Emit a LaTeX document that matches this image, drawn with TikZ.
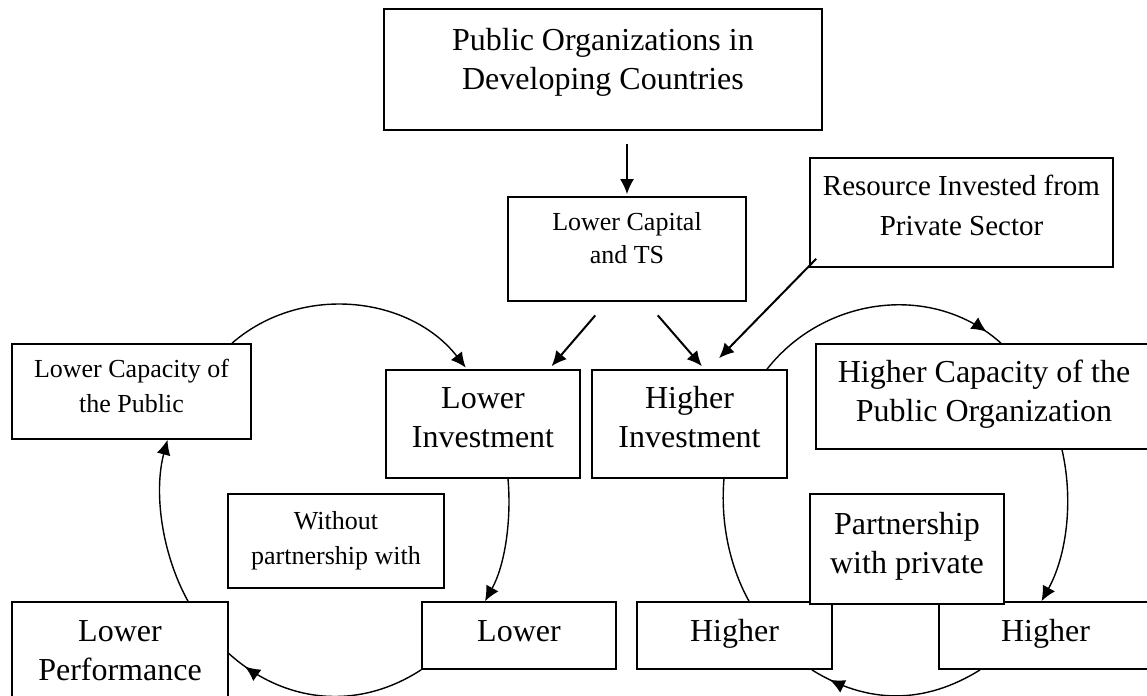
\documentclass[tikz,border=0pt]{standalone}
\usepackage{fontspec}
\setmainfont{Liberation Serif}
\usetikzlibrary{arrows.meta}
\usetikzlibrary{calc}
\usetikzlibrary{decorations.markings}

\newcommand{\boxtext}[2][1.5pt]{\raisebox{#1}[\height][\depth]{\begin{tabular}{@{}c@{}}#2\end{tabular}}}

\begin{document}
\begin{tikzpicture}[x=0.5pt, y=0.5pt, >={Latex[length=7.5pt,width=7pt]},
  box/.style={draw, line width=0.8pt, fill=white, inner sep=0pt},
  big/.style={font=\fontsize{16}{19.5}\selectfont},
  mid/.style={font=\fontsize{14.5}{20}\selectfont},
  small/.style={font=\fontsize{13}{17.5}\selectfont},
  link/.style={line width=1pt},
  loopline/.style={line width=0.7pt},
  arrowon/.style={postaction={decorate}, decoration={markings, mark=at position #1 with {\arrow{Latex[length=7.5pt,width=7pt]}}}}]

 \useasboundingbox (0,0) rectangle (1147,696);

 %top
 \node[box, big, minimum width=219pt, minimum height=60.5pt] (pub) at (603,626.5) {\boxtext[3.6pt]{Public Organizations in\\ Developing Countries}};
 \node[box, small, font=\fontsize{13}{16.5}\selectfont, minimum width=119pt, minimum height=52pt] (cap) at (627,447) {\boxtext[4.5pt]{Lower Capital\\ and TS}};
 \node[box, mid, minimum width=151.5pt, minimum height=54.5pt] (res) at (961.5,483.5) {\boxtext[2.7pt]{Resource Invested from\\ Private Sector}};

 %middle row
 \node[box, small, minimum width=119.5pt, minimum height=47.5pt] (lcap) at (131.5,304.5) {\boxtext{Lower Capacity of\\ the Public}};
 \node[box, big, minimum width=97pt, minimum height=54pt] (linv) at (483,272) {\boxtext[1.8pt]{Lower\\ Investment}};
 \node[box, big, minimum width=97.5pt, minimum height=54pt] (hinv) at (689.5,272) {\boxtext[1.8pt]{Higher\\ Investment}};
 \node[box, big, minimum width=168pt, minimum height=52.5pt] (hcap) at (984,299.5) {\boxtext[1.1pt]{Higher Capacity of the\\ Public Organization}};

 \node[box, small, minimum width=108pt, minimum height=47pt] (wo) at (336,155) {\boxtext[0.5pt]{Without\\ partnership with}};

 %bottom row
 \node[box, big, minimum width=108pt, minimum height=51.5pt] (lperf) at (120,42.5) {\boxtext[0pt]{Lower\\ Performance}};
 \node[box, big, minimum width=97pt, minimum height=33.5pt] (low) at (519,60.5) {\boxtext[1.1pt]{Lower}};
 \node[box, big, minimum width=97.5pt, minimum height=33.5pt] (hl) at (734.5,60.5) {\boxtext[1.1pt]{Higher}};
 \node[box, big, minimum width=106.5pt, minimum height=33.5pt] (hr) at (1045.5,60.5) {\boxtext[1.1pt]{Higher}};
 \node[box, big, minimum width=97pt, minimum height=55pt] (pp) at (907,147) {\boxtext[1.6pt]{Partnership\\ with private}};

 %arrows
 \draw[link, ->, shorten <=6.5pt, shorten >=1pt] (cap.north |- pub.south) -- (cap.north);
 \draw[link, ->, shorten <=9pt, shorten >=2pt] ([xshift=-10pt]cap.south) -- ([xshift=33pt]linv.north);
 \draw[link, ->, shorten <=9pt, shorten >=2pt] ([xshift=9.5pt]cap.south) -- ([xshift=7.5pt]hinv.north);
 \draw[link, ->] ([shift={(3.5pt,4.5pt)}]res.south west) -- ([shift={(14.75pt,5.5pt)}]hinv.north);

 %arc left
 \draw[loopline, ->, shorten >=1pt] ([xshift=50.25pt]lcap.north) to[out=41, in=128] ([xshift=-8pt]linv.north);
 \draw[loopline, ->, looseness=0.85] ([xshift=12.5pt]linv.south) to[out=-85, in=61] ([xshift=-17pt]low.north);
 \draw[loopline, arrowon=0.9] (low.south west) to[out=213, in=-42] (lperf.east);
 \draw[loopline, ->, looseness=0.85] ([xshift=34pt]lperf.north) to[out=119, in=255] ([xshift=18pt]lcap.south);

 %arc right
 \draw[loopline, arrowon=0.93] ([xshift=38.75pt]hinv.north) to[out=52, in=138] ([xshift=8.5pt]hcap.north);
 \draw[loopline, ->, looseness=0.87] ([xshift=39pt]hcap.south) to[out=-77, in=61] ([xshift=-2pt]hr.north);
 \draw[loopline, arrowon=0.885] ([xshift=21pt]hr.south west) to[out=212, in=-32] ([xshift=-10.5pt]hl.south east);
 \draw[loopline, looseness=0.85] ([xshift=17.25pt]hinv.south) to[out=265, in=119] ([xshift=7.25pt]hl.north);

\end{tikzpicture}
\end{document}
